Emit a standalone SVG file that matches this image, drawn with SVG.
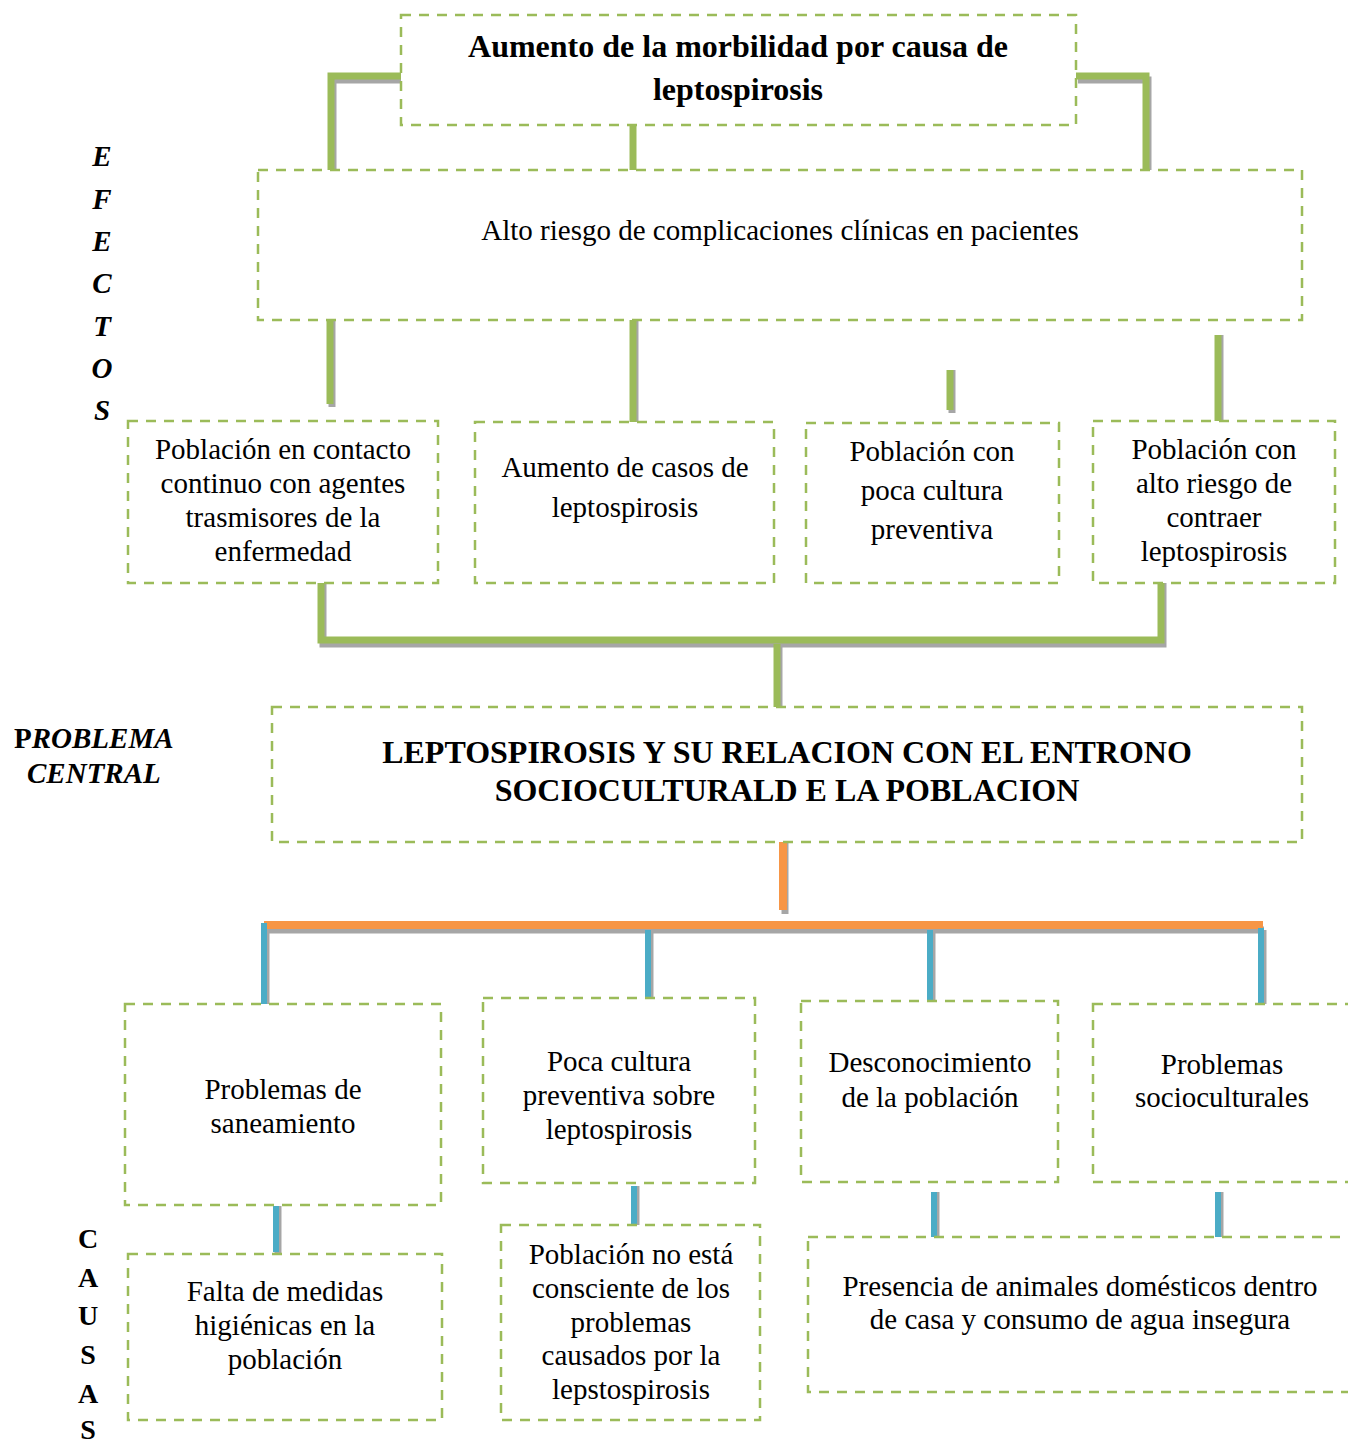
<svg xmlns="http://www.w3.org/2000/svg" width="1348" height="1440" viewBox="0 0 1348 1440">
<style>
.box{fill:#fff;stroke:#9bbb59;stroke-width:2.5;stroke-dasharray:10 8}
.t{font-family:"Liberation Serif","Times New Roman",serif;font-size:29px;fill:#000;text-anchor:middle}
.b{font-weight:bold;font-size:32px}
.lab{font-family:"Liberation Serif","Times New Roman",serif;font-weight:bold;font-style:italic;font-size:29px;fill:#000;text-anchor:middle}
.labc{font-family:"Liberation Serif","Times New Roman",serif;font-weight:bold;font-size:28px;fill:#000;text-anchor:middle}
.sh{stroke:#a6a6a6;fill:none}
.g{stroke:#9bbb59;fill:none;stroke-width:7}
.o{stroke:#f79646;fill:none;stroke-width:8}
.bl{stroke:#4bacc6;fill:none;stroke-width:6}
</style>
<g id="connectors">
  <g class="sh" stroke-width="7">
    <path d="M333 172 V80 H403"/>
    <path d="M1078 80 H1148 V172"/>
    <path d="M332 320 V407"/>
    <path d="M635 320 V424"/>
    <path d="M952 370 V413"/>
    <path d="M1220 335 V423"/>
    <path d="M323 583 V644 H1163 V583"/>
    <path d="M779 646 V712"/>
    <path d="M785 842 V914"/>
    <path d="M266 930 H1264"/>
    <path d="M266 926 V1012"/>
    <path d="M650 932 V1000"/>
    <path d="M932 932 V1003"/>
    <path d="M1263 930 V1006"/>
    <path d="M278 1206 V1254"/>
    <path d="M636 1186 V1227"/>
    <path d="M936 1192 V1239"/>
    <path d="M1220 1192 V1239"/>
  </g>
  <path class="g" d="M331 170 V76 H401"/>
  <path class="g" d="M1076 76 H1146 V170"/>
  <path class="g" d="M633 125 V170"/>
  <path class="g" d="M330 320 V404"/>
  <path class="g" d="M633 320 V422"/>
  <path class="g" d="M950 370 V410"/>
  <path class="g" d="M1218 335 V421"/>
  <path class="g" d="M321 583 V640 H1161 V583"/>
  <path class="g" d="M777 644 V708"/>
  <path class="o" d="M783 842 V910"/>
  <path class="o" d="M264 925 H1263" stroke-width="7"/>
  <path class="bl" d="M264 923 V1008"/>
  <path class="bl" d="M648 930 V998"/>
  <path class="bl" d="M930 930 V1001"/>
  <path class="bl" d="M1261 928 V1004"/>
  <path class="bl" d="M276 1206 V1252"/>
  <path class="bl" d="M634 1186 V1225"/>
  <path class="bl" d="M934 1192 V1237"/>
  <path class="bl" d="M1218 1192 V1237"/>
</g>
<g id="top">
  <rect class="box" x="401" y="15" width="675" height="110"/>
  <text class="t b" x="738" y="57">Aumento de la morbilidad por causa de</text>
  <text class="t b" x="738" y="100">leptospirosis</text>
</g>
<g id="efecto-general">
  <rect class="box" x="258" y="170" width="1044" height="150"/>
  <text class="t" x="780" y="240">Alto riesgo de complicaciones clínicas en pacientes</text>
</g>
<g id="efecto1">
  <rect class="box" x="128" y="421" width="310" height="162"/>
  <text class="t" x="283" y="459">Población en contacto</text>
  <text class="t" x="283" y="493">continuo con agentes</text>
  <text class="t" x="283" y="527">trasmisores de la</text>
  <text class="t" x="283" y="561">enfermedad</text>
</g>
<g id="efecto2">
  <rect class="box" x="475" y="422" width="299" height="161"/>
  <text class="t" x="625" y="477">Aumento de casos de</text>
  <text class="t" x="625" y="517">leptospirosis</text>
</g>
<g id="efecto3">
  <rect class="box" x="806" y="423" width="253" height="160"/>
  <text class="t" x="932" y="461">Población con</text>
  <text class="t" x="932" y="500">poca cultura</text>
  <text class="t" x="932" y="539">preventiva</text>
</g>
<g id="efecto4">
  <rect class="box" x="1093" y="421" width="242" height="162"/>
  <text class="t" x="1214" y="459">Población con</text>
  <text class="t" x="1214" y="493">alto riesgo de</text>
  <text class="t" x="1214" y="527">contraer</text>
  <text class="t" x="1214" y="561">leptospirosis</text>
</g>
<g id="labels">
  <text class="lab" x="102" y="166">E</text>
  <text class="lab" x="102" y="209">F</text>
  <text class="lab" x="102" y="251">E</text>
  <text class="lab" x="102" y="293">C</text>
  <text class="lab" x="102" y="336">T</text>
  <text class="lab" x="102" y="378">O</text>
  <text class="lab" x="102" y="420">S</text>
  <text x="14" y="748" font-family="Liberation Serif, serif" font-weight="bold" font-size="29px"><tspan>P</tspan><tspan font-style="italic">ROBLEMA</tspan></text>
  <text x="27" y="783" font-family="Liberation Serif, serif" font-weight="bold" font-style="italic" font-size="29px">CENTRAL</text>
  <text class="labc" x="88" y="1248">C</text>
  <text class="labc" x="88" y="1287">A</text>
  <text class="labc" x="88" y="1325">U</text>
  <text class="labc" x="88" y="1364">S</text>
  <text class="labc" x="88" y="1403">A</text>
  <text class="labc" x="88" y="1439">S</text>
</g>
<g id="central">
  <rect class="box" x="272" y="707" width="1030" height="135"/>
  <text class="t b" x="787" y="763">LEPTOSPIROSIS Y SU RELACION CON EL ENTRONO</text>
  <text class="t b" x="787" y="801">SOCIOCULTURALD E LA POBLACION</text>
</g>
<g id="causa1">
  <rect class="box" x="125" y="1004" width="316" height="201"/>
  <text class="t" x="283" y="1099">Problemas de</text>
  <text class="t" x="283" y="1133">saneamiento</text>
</g>
<g id="causa2">
  <rect class="box" x="483" y="998" width="272" height="185"/>
  <text class="t" x="619" y="1071">Poca cultura</text>
  <text class="t" x="619" y="1105">preventiva sobre</text>
  <text class="t" x="619" y="1139">leptospirosis</text>
</g>
<g id="causa3">
  <rect class="box" x="801" y="1001" width="257" height="181"/>
  <text class="t" x="930" y="1072">Desconocimiento</text>
  <text class="t" x="930" y="1107">de la población</text>
</g>
<g id="causa4">
  <rect class="box" x="1093" y="1004" width="258" height="178"/>
  <text class="t" x="1222" y="1074">Problemas</text>
  <text class="t" x="1222" y="1107">socioculturales</text>
</g>
<g id="subcausa1">
  <rect class="box" x="128" y="1254" width="314" height="166"/>
  <text class="t" x="285" y="1301">Falta de medidas</text>
  <text class="t" x="285" y="1335">higiénicas en la</text>
  <text class="t" x="285" y="1369">población</text>
</g>
<g id="subcausa2">
  <rect class="box" x="501" y="1225" width="259" height="195"/>
  <text class="t" x="631" y="1264">Población no está</text>
  <text class="t" x="631" y="1298">consciente de los</text>
  <text class="t" x="631" y="1332">problemas</text>
  <text class="t" x="631" y="1365">causados por la</text>
  <text class="t" x="631" y="1399">lepstospirosis</text>
</g>
<g id="subcausa3">
  <rect class="box" x="808" y="1237" width="545" height="155"/>
  <text class="t" x="1080" y="1296">Presencia de animales domésticos dentro</text>
  <text class="t" x="1080" y="1329">de casa y consumo de agua insegura</text>
</g>
</svg>
